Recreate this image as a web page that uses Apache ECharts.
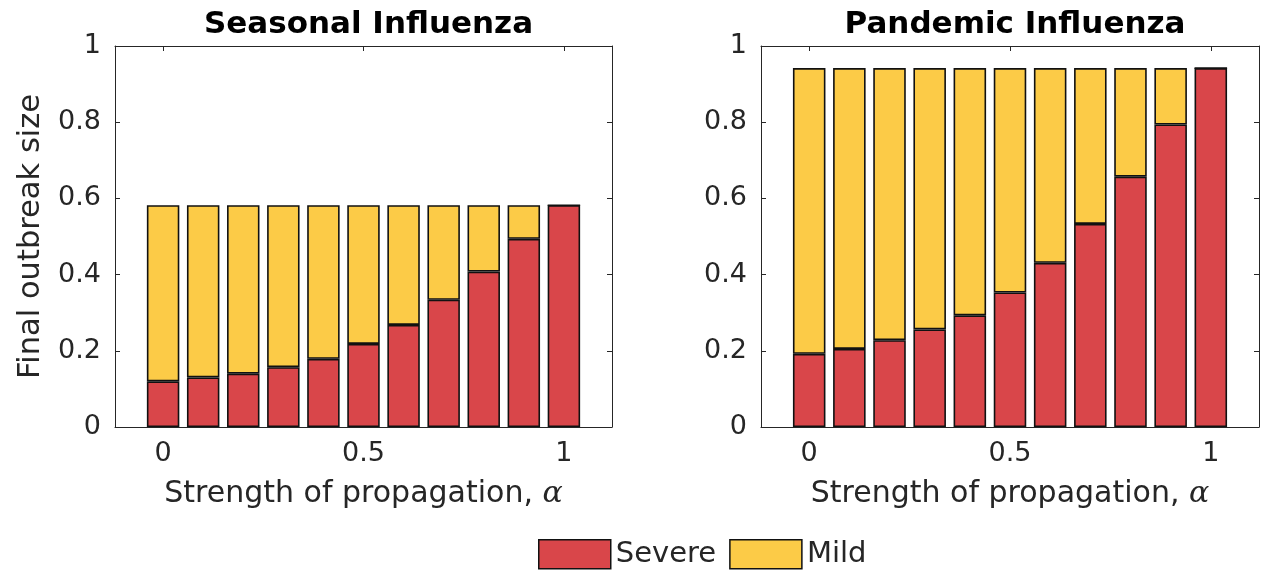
<!DOCTYPE html>
<html>
<head>
<meta charset="utf-8">
<script src="https://cdn.jsdelivr.net/npm/echarts@6/dist/echarts.min.js"></script>
<style>
html,body{margin:0;padding:0;background:#fff;}
#chart{width:1267px;height:571px;}
</style>
</head>
<body>
<div id="chart"></div>
<script>
// ---- data ----
const alphaLabels = ['0', '0.1', '0.2', '0.3', '0.4', '0.5', '0.6', '0.7', '0.8', '0.9', '1'];
const xTickValues = [0, 0.5, 1];
const seasonalSevere = [0.120, 0.130, 0.140, 0.157, 0.179, 0.218, 0.268, 0.334, 0.408, 0.494, 0.582];
const seasonalMild   = [0.462, 0.452, 0.442, 0.425, 0.403, 0.364, 0.314, 0.248, 0.174, 0.088, 0.000];
const pandemicSevere = [0.192, 0.205, 0.228, 0.256, 0.293, 0.353, 0.431, 0.533, 0.657, 0.794, 0.942];
const pandemicMild   = [0.750, 0.737, 0.714, 0.686, 0.649, 0.589, 0.511, 0.409, 0.285, 0.148, 0.000];
const panelTitles = ['Seasonal Influenza', 'Pandemic Influenza'];
const seriesNames = ['Severe', 'Mild'];

// ---- style ----
const FONT = 'DejaVu Sans';
const TXT = '#262626';
const RED = '#d9464a';
const YELLOW = '#fccb47';

// axis frames: x range -0.12 .. 1.12
const XMIN = -0.12, XMAX = 1.12;
const frames = [
  {left: 115, top: 46, width: 497, height: 381},
  {left: 761, top: 46, width: 498, height: 381}
];
// bar grids span -0.05 .. 1.05 in x units (category bands of 0.1)
const barGrids = frames.map(f => {
  const ppu = f.width / (XMAX - XMIN);
  return {left: f.left + (-0.05 - XMIN) * ppu, top: f.top, width: 1.1 * ppu, height: f.height};
});

const grids = frames.concat(barGrids);
const xAxes = [], yAxes = [];
frames.forEach((g, gi) => {
  const common = {
    gridIndex: gi, type: 'value', min: XMIN, max: XMAX,
    splitLine: {show: false},
    axisLine: {show: true, onZero: false, lineStyle: {color: TXT, width: 1}},
    axisTick: {show: true, inside: true, length: 5, customValues: xTickValues, lineStyle: {color: TXT}}
  };
  xAxes.push(Object.assign({}, common, {
    position: 'bottom',
    axisLabel: {show: true, customValues: xTickValues, margin: 13, color: TXT,
      fontFamily: FONT, fontSize: 27, formatter: v => String(v)},
    name: 'Strength of propagation, {a|α}',
    nameLocation: 'middle', nameGap: 52,
    nameTextStyle: {color: TXT, fontFamily: FONT, fontSize: 30,
      rich: {a: {fontFamily: 'DejaVu Serif', fontStyle: 'italic', fontSize: 30, color: TXT}}}
  }));
  xAxes.push(Object.assign({}, common, {position: 'top', axisLabel: {show: false}}));
  const ycommon = {
    gridIndex: gi, type: 'value', min: 0, max: 1, interval: 0.2,
    splitLine: {show: false},
    axisLine: {show: true, onZero: false, lineStyle: {color: TXT, width: 1}},
    axisTick: {show: true, inside: true, length: 5, lineStyle: {color: TXT}}
  };
  const yLeft = Object.assign({}, ycommon, {
    position: 'left',
    axisLabel: {show: true, margin: 14, color: TXT, fontFamily: FONT, fontSize: 27,
      formatter: v => String(Math.round(v*10)/10)}
  });
  if (gi === 0) {
    yLeft.name = 'Final outbreak size';
    yLeft.nameLocation = 'middle';
    yLeft.nameGap = 68;
    yLeft.nameTextStyle = {color: TXT, fontFamily: FONT, fontSize: 30.5};
  }
  yAxes.push(yLeft);
  yAxes.push(Object.assign({}, ycommon, {position: 'right', axisLabel: {show: false}}));
});
// hidden axes for bars
barGrids.forEach((g, bi) => {
  xAxes.push({gridIndex: 2 + bi, type: 'category', data: alphaLabels, boundaryGap: true, show: false});
  yAxes.push({gridIndex: 2 + bi, type: 'value', min: 0, max: 1, show: false});
});

const panelData = [[seasonalSevere, seasonalMild], [pandemicSevere, pandemicMild]];
const series = [];
panelData.forEach((pd, gi) => {
  pd.forEach((vals, si) => {
    series.push({
      type: 'bar', name: seriesNames[si], stack: 'p' + gi,
      xAxisIndex: 4 + gi, yAxisIndex: 4 + gi,
      barWidth: '81%',
      data: vals,
      itemStyle: {color: si === 0 ? RED : YELLOW, borderColor: '#111', borderWidth: 1.6},
      emphasis: {disabled: true},
      animation: false
    });
  });
});

const chart = echarts.init(document.getElementById('chart'), null, {renderer: 'canvas'});
chart.setOption({
  backgroundColor: '#fff',
  animation: false,
  title: panelTitles.map((t, i) => ({
    text: t, left: frames[i].left + frames[i].width/2, top: 4, textAlign: 'center',
    textStyle: {fontFamily: FONT, fontWeight: 'bold', fontSize: 31, color: '#000'}
  })),
  legend: {
    data: seriesNames, left: 538, top: 539, padding: 0,
    itemWidth: 72, itemHeight: 29, itemGap: 13,
    icon: 'rect',
    itemStyle: {borderColor: '#111', borderWidth: 1.5},
    textStyle: {fontFamily: FONT, fontSize: 29, lineHeight: 30, color: TXT},
    selectedMode: false
  },
  grid: grids,
  xAxis: xAxes,
  yAxis: yAxes,
  series: series
});
</script>
</body>
</html>
